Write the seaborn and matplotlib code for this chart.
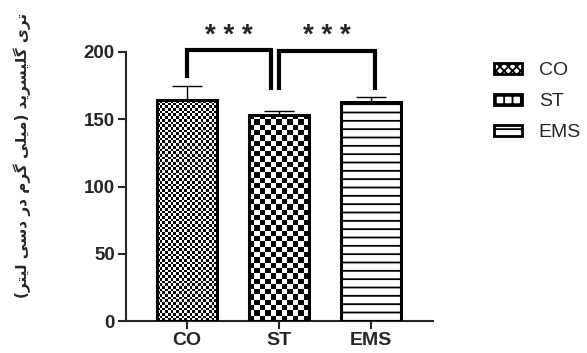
import numpy as np
import matplotlib
matplotlib.use("Agg")
import matplotlib.pyplot as plt
import seaborn as sns
import pandas as pd
from matplotlib.patches import Patch

# ---- data ----
groups = ["CO", "ST", "EMS"]
means = [164, 153.5, 163]
sd_upper = [10.5, 3, 3.5]
yticks = [0, 50, 100, 150, 200]
ylabel = "تری گلیسرید (میلی گرم در دسی لیتر)"
sig_labels = ["* * *", "* * *"]

# ---- Persian shaping (presentation forms, visual order) ----
FORMS = {
    'ت': ('\uFE95', '\uFE96', '\uFE97', '\uFE98'),
    'ر': ('\uFEAD', '\uFEAE', None, None),
    'ی': ('\uFBFC', '\uFBFD', '\uFBFE', '\uFBFF'),
    'گ': ('\uFB92', '\uFB93', '\uFB94', '\uFB95'),
    'ل': ('\uFEDD', '\uFEDE', '\uFEDF', '\uFEE0'),
    'س': ('\uFEB1', '\uFEB2', '\uFEB3', '\uFEB4'),
    'د': ('\uFEA9', '\uFEAA', None, None),
    'م': ('\uFEE1', '\uFEE2', '\uFEE3', '\uFEE4'),
}


def shape(text):
    out = []
    for i, c in enumerate(text):
        if c not in FORMS:
            out.append(c)
            continue
        f = FORMS[c]
        prev = text[i - 1] if i > 0 else ''
        nxt = text[i + 1] if i + 1 < len(text) else ''
        jp = prev in FORMS and FORMS[prev][2] is not None
        jn = nxt in FORMS and f[2] is not None
        if jp and jn:
            out.append(f[3])
        elif jp:
            out.append(f[1])
        elif jn:
            out.append(f[2])
        else:
            out.append(f[0])
    mirror = {'(': ')', ')': '('}
    return ''.join(mirror.get(c, c) for c in reversed(out))


sns.set_style("ticks")
plt.rcParams['font.family'] = ['Liberation Sans', 'DejaVu Sans']
plt.rcParams['hatch.color'] = 'black'
plt.rcParams['hatch.linewidth'] = 1.3

W, H = 587, 353
fig = plt.figure(figsize=(W / 100, H / 100), dpi=100)
ax = fig.add_axes([126 / W, 1 - 321 / H, (433 - 126) / W, (321 - 52) / H])

df = pd.DataFrame({"group": groups, "value": means})
sns.barplot(data=df, x="group", y="value", order=groups, color="white",
            edgecolor="black", linewidth=2.2, width=0.65, errorbar=None,
            ax=ax, zorder=3)

ax.set_xlim(-0.663, 2.674)
ax.set_ylim(0, 200)
ax.set_yticks(yticks)
ax.set_xlabel("")
ax.set_ylabel("")
for s in ["top", "right"]:
    ax.spines[s].set_visible(False)
for s in ["left", "bottom"]:
    ax.spines[s].set_linewidth(1.5)
ax.tick_params(axis="both", width=1.5, length=6, pad=2)
ax.tick_params(axis="y", labelsize=13.5)
ax.tick_params(axis="x", labelsize=14)
for lab in ax.get_xticklabels() + ax.get_yticklabels():
    lab.set_fontweight("bold")

ax.errorbar(range(len(groups)), means, yerr=[[0] * len(groups), sd_upper],
            fmt="none", ecolor="black", elinewidth=1.0, capsize=11,
            capthick=1.0, zorder=2)

bars = ax.patches[:3]
fig.canvas.draw()
cells = [2.7, 5.3]
for bar, cell in zip(bars[:2], cells):
    bb = bar.get_window_extent()
    nx = max(1, int(round(bb.width / cell)))
    ny = max(1, int(round(bb.height / cell)))
    arr = (np.indices((ny, nx)).sum(axis=0) % 2).astype(float)
    x0 = bar.get_x()
    im = ax.imshow(arr, cmap="gray", vmin=0, vmax=1, interpolation="nearest",
                   extent=(x0, x0 + bar.get_width(), 0, bar.get_height()),
                   aspect="auto", zorder=2.5, origin="lower")
    im.set_clip_path(bar)
    bar.set_facecolor("none")
bars[2].set_hatch("--")
ax.set_xlim(-0.663, 2.674)
ax.set_ylim(0, 200)

# significance brackets
brk = [(0, 0.91, 181, 172, 201.5), (1.0, 2.04, 172, 172, 201)]
for (xa, xb, ya, yb, yt), lab in zip(brk, sig_labels):
    ax.plot([xa, xa, xb, xb], [ya, yt, yt, yb], color="black", lw=3,
            clip_on=False, solid_joinstyle="miter", solid_capstyle="butt",
            zorder=4)
    ax.text((xa + xb) / 2, 202.5, lab, ha="center", va="bottom",
            fontsize=20, fontweight="bold", clip_on=False)

# y label
fig.text(22 / W, 1 - 155 / H, shape(ylabel), rotation=90, ha="center",
         va="center", fontsize=11, fontweight="bold",
         family=["DejaVu Sans"])

# legend
handles = [Patch(facecolor="white", edgecolor="black", hatch="xxxx", lw=2),
           Patch(facecolor="white", edgecolor="black", hatch="++", lw=2),
           Patch(facecolor="white", edgecolor="black", hatch="--", lw=2)]
fig.legend(handles, groups, loc="upper left",
           bbox_to_anchor=(494 / W, 1 - 62 / H), frameon=False,
           fontsize=14, handlelength=1.45, handleheight=0.5,
           handletextpad=0.85, labelspacing=0.72, borderpad=0,
           borderaxespad=0)

fig.savefig("out.png", dpi=100)
